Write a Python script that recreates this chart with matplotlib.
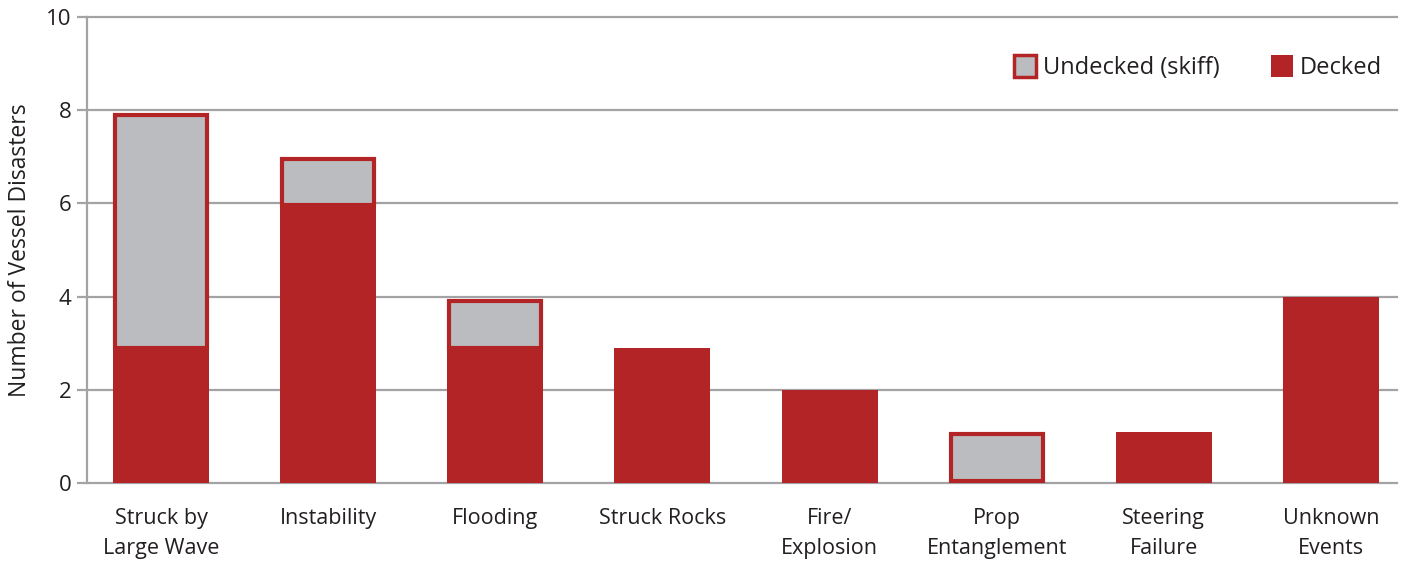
import matplotlib
matplotlib.use("Agg")
import matplotlib.pyplot as plt
from matplotlib.patches import Patch
import numpy as np

categories = ["Struck by\nLarge Wave", "Instability", "Flooding", "Struck Rocks",
              "Fire/\nExplosion", "Prop\nEntanglement", "Steering\nFailure", "Unknown\nEvents"]
decked = [2.95, 6.0, 2.95, 2.9, 2.0, 0.0, 1.1, 4.0]
undecked = [5.0, 1.0, 1.0, 0.0, 0.0, 1.1, 0.0, 0.0]
y_ticks = [0, 2, 4, 6, 8, 10]

RED = "#B22425"
GRAY = "#BBBCC0"
GRID = "#A3A3A5"
TEXT = "#231F20"

plt.rcParams["font.family"] = ["Open Sans", "DejaVu Sans"]

fig = plt.figure(figsize=(14.13, 5.61), dpi=100)
ax = fig.add_axes([87 / 1413, 1 - 483 / 561, 1310 / 1413, 466 / 561])

x = np.arange(len(categories))
width = 0.575
edge_lw = 3.0  # points
# keep the outline of the skiff boxes inside the bar footprint
dx = (edge_lw / 72 * 100) / 167 / 2
dy = (edge_lw / 72 * 100) / 46.6 / 2

ax.bar(x, decked, width=width, color=RED, linewidth=0, zorder=5)
for xi, d, u in zip(x, decked, undecked):
    if u > 0:
        if d > 0:
            # bottom outline tucks under the decked bar
            bottom, height = d - dy, u
        else:
            bottom, height = dy, u - 2 * dy
        ax.bar(xi, height, width=width - 2 * dx, bottom=bottom,
               color=GRAY, edgecolor=RED, linewidth=edge_lw, zorder=4)

ax.set_xlim(-0.443, 7.395)
ax.set_ylim(0, 10)
ax.set_yticks(y_ticks)
ax.set_yticklabels([str(t) for t in y_ticks], fontsize=16, color=TEXT)
ax.set_xticks(x)
ax.set_xticklabels(categories, fontsize=15.5, color=TEXT, linespacing=1.55)

for t in y_ticks:
    ax.axhline(t, color=GRID, linewidth=1.6, zorder=1, clip_on=False)
ax.tick_params(axis="y", length=7, width=1.6, color=GRID, pad=4)
ax.tick_params(axis="x", length=0, pad=18)

for side in ["top", "right", "bottom"]:
    ax.spines[side].set_visible(False)
ax.spines["left"].set_color(GRID)
ax.spines["left"].set_linewidth(1.6)
ax.spines["left"].set_zorder(2)

ax.set_ylabel("Number of Vessel Disasters", fontsize=16.5, color=TEXT, labelpad=10)

handles = [Patch(facecolor=GRAY, edgecolor=RED, linewidth=2.5, label="Undecked (skiff)"),
           Patch(facecolor=RED, edgecolor=RED, linewidth=0, label="Decked")]
leg = ax.legend(handles=handles, ncol=2, frameon=False, fontsize=17,
                loc="upper right", bbox_to_anchor=(1.005, 0.965),
                handlelength=0.95, handleheight=1.1, handletextpad=0.3,
                columnspacing=2.15, labelcolor=TEXT)

fig.savefig("out.png", dpi=100)
